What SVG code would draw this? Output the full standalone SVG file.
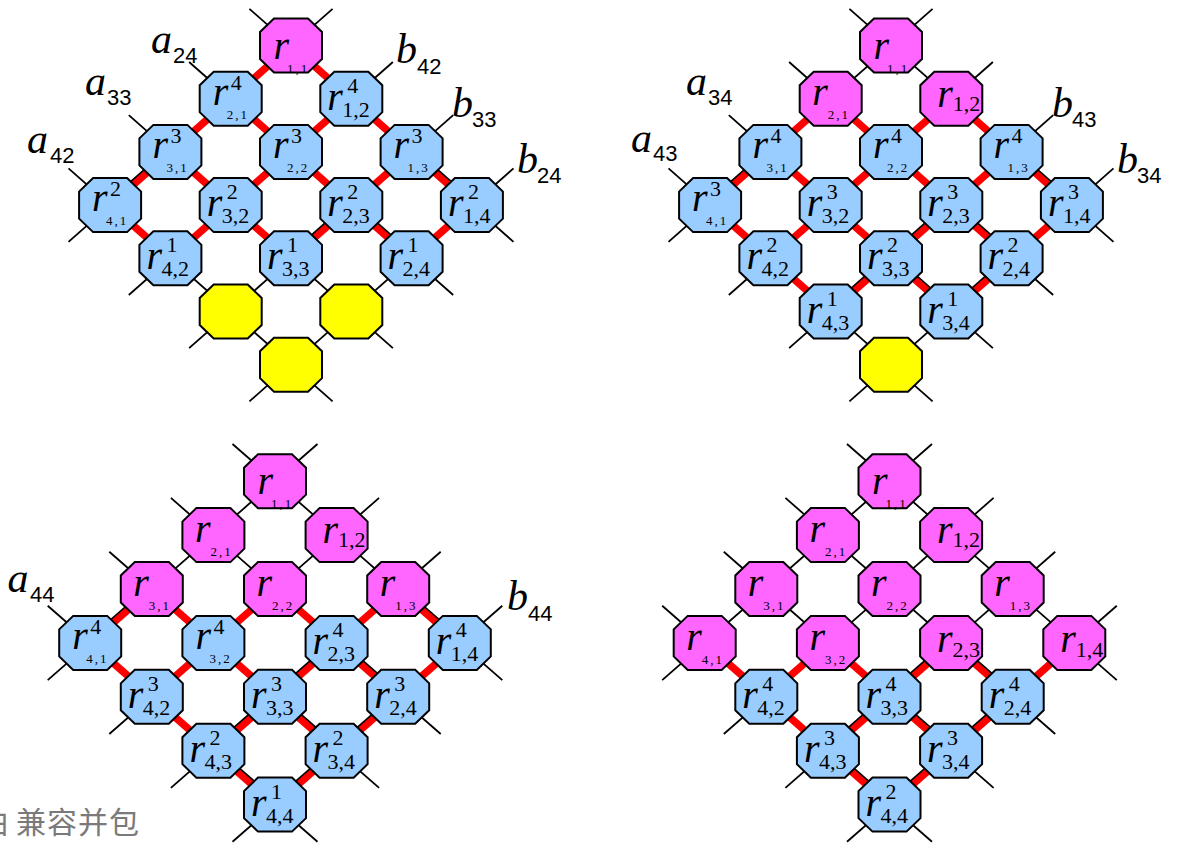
<svg xmlns="http://www.w3.org/2000/svg" xmlns:xlink="http://www.w3.org/1999/xlink" width="1178" height="851" viewBox="0 0 1178 851">
  <style>
    .oct { stroke: #000; stroke-width: 2; stroke-linejoin: miter; }
    .blue { fill: #99ccff; }
    .pink { fill: #ff66ff; }
    .yel { fill: #ffff00; }
    .wire { stroke: #000; stroke-width: 1.8; fill: none; }
    .bus { stroke: #ff0000; stroke-width: 7.5; fill: none; stroke-linecap: butt; }
    .seam { stroke: #000; stroke-width: 1.6; fill: none; }
    text { font-family: "Liberation Serif", "Times New Roman", serif; fill: #000; }
    .r { font-style: italic; font-size: 40px; }
    .sp { font-size: 22px; }
    .sb { font-size: 22px; }
    .ss { font-size: 13px; letter-spacing: 2px; }
    .lv { font-style: italic; font-size: 42px; }
    .li { font-family: "Liberation Sans", Arial, sans-serif; font-size: 22px; }
    .foot { font-family: "Noto Sans CJK SC", "Noto Sans", sans-serif; font-size: 30px; fill: #7a7a7a; }
  </style>
  <defs>
    <polygon id="oct" points="-17,-27 17,-27 31,-13.5 31,13.5 17,27 -17,27 -31,13.5 -31,-13.5"/>
  </defs>

  <!-- lattice wires: each line runs through one row or column of a 4x4 array, stubs included -->
  <g id="connectors">
    <g id="wires">
      <!-- array 1 -->
      <line class="wire" x1="249.4" y1="8.8" x2="513.5" y2="241.8"/>
      <line class="wire" x1="189.1" y1="62" x2="453.2" y2="295"/>
      <line class="wire" x1="128.8" y1="115.2" x2="392.9" y2="348.2"/>
      <line class="wire" x1="68.5" y1="168.4" x2="332.6" y2="401.4"/>
      <line class="wire" x1="332.6" y1="8.8" x2="68.5" y2="241.8"/>
      <line class="wire" x1="392.9" y1="62" x2="128.8" y2="295"/>
      <line class="wire" x1="453.2" y1="115.2" x2="189.1" y2="348.2"/>
      <line class="wire" x1="513.5" y1="168.4" x2="249.4" y2="401.4"/>
      <!-- array 2 -->
      <line class="wire" x1="849.4" y1="8.8" x2="1113.5" y2="241.8"/>
      <line class="wire" x1="789.1" y1="62" x2="1053.2" y2="295"/>
      <line class="wire" x1="728.8" y1="115.2" x2="992.9" y2="348.2"/>
      <line class="wire" x1="668.5" y1="168.4" x2="932.6" y2="401.4"/>
      <line class="wire" x1="932.6" y1="8.8" x2="668.5" y2="241.8"/>
      <line class="wire" x1="992.9" y1="62" x2="728.8" y2="295"/>
      <line class="wire" x1="1053.2" y1="115.2" x2="789.1" y2="348.2"/>
      <line class="wire" x1="1113.5" y1="168.4" x2="849.4" y2="401.4"/>
      <!-- array 3 -->
      <line class="wire" x1="232.5" y1="444" x2="502.3" y2="680.1"/>
      <line class="wire" x1="170.9" y1="497.9" x2="440.7" y2="734"/>
      <line class="wire" x1="109.3" y1="551.8" x2="379.1" y2="787.9"/>
      <line class="wire" x1="47.7" y1="605.7" x2="317.5" y2="841.8"/>
      <line class="wire" x1="317.5" y1="444" x2="47.7" y2="680.1"/>
      <line class="wire" x1="379.1" y1="497.9" x2="109.3" y2="734"/>
      <line class="wire" x1="440.7" y1="551.8" x2="170.9" y2="787.9"/>
      <line class="wire" x1="502.3" y1="605.7" x2="232.5" y2="841.8"/>
      <!-- array 4 -->
      <line class="wire" x1="847" y1="444" x2="1116.8" y2="680.1"/>
      <line class="wire" x1="785.4" y1="497.9" x2="1055.2" y2="734"/>
      <line class="wire" x1="723.8" y1="551.8" x2="993.6" y2="787.9"/>
      <line class="wire" x1="662.2" y1="605.7" x2="932" y2="841.8"/>
      <line class="wire" x1="932" y1="444" x2="662.2" y2="680.1"/>
      <line class="wire" x1="993.6" y1="497.9" x2="723.8" y2="734"/>
      <line class="wire" x1="1055.2" y1="551.8" x2="785.4" y2="787.9"/>
      <line class="wire" x1="1116.8" y1="605.7" x2="847" y2="841.8"/>
    </g>

    <!-- active data paths -->
    <g id="buses">
      <!-- array 1 -->
      <line class="bus" x1="291" y1="45.5" x2="471.9" y2="205.1"/>
      <line class="bus" x1="230.7" y1="98.7" x2="411.6" y2="258.3"/>
      <line class="bus" x1="170.4" y1="151.9" x2="291" y2="258.3"/>
      <line class="bus" x1="110.1" y1="205.1" x2="170.4" y2="258.3"/>
      <line class="bus" x1="291" y1="45.5" x2="110.1" y2="205.1"/>
      <line class="bus" x1="351.3" y1="98.7" x2="170.4" y2="258.3"/>
      <line class="bus" x1="411.6" y1="151.9" x2="291" y2="258.3"/>
      <line class="bus" x1="471.9" y1="205.1" x2="411.6" y2="258.3"/>
      <!-- array 2 -->
      <line class="bus" x1="951.3" y1="98.7" x2="1071.9" y2="205.1"/>
      <line class="bus" x1="830.7" y1="98.7" x2="1011.6" y2="258.3"/>
      <line class="bus" x1="770.4" y1="151.9" x2="951.3" y2="311.5"/>
      <line class="bus" x1="710.1" y1="205.1" x2="830.7" y2="311.5"/>
      <line class="bus" x1="830.7" y1="98.7" x2="710.1" y2="205.1"/>
      <line class="bus" x1="951.3" y1="98.7" x2="770.4" y2="258.3"/>
      <line class="bus" x1="1011.6" y1="151.9" x2="830.7" y2="311.5"/>
      <line class="bus" x1="1071.9" y1="205.1" x2="951.3" y2="311.5"/>
      <!-- array 3 -->
      <line class="bus" x1="398.2" y1="589" x2="459.8" y2="642.9"/>
      <line class="bus" x1="275" y1="589" x2="398.2" y2="696.8"/>
      <line class="bus" x1="151.8" y1="589" x2="336.6" y2="750.7"/>
      <line class="bus" x1="90.2" y1="642.9" x2="275" y2="804.6"/>
      <line class="bus" x1="151.8" y1="589" x2="90.2" y2="642.9"/>
      <line class="bus" x1="275" y1="589" x2="151.8" y2="696.8"/>
      <line class="bus" x1="398.2" y1="589" x2="213.4" y2="750.7"/>
      <line class="bus" x1="459.8" y1="642.9" x2="275" y2="804.6"/>
      <!-- array 4 -->
      <line class="bus" x1="951.1" y1="642.9" x2="1012.7" y2="696.8"/>
      <line class="bus" x1="827.9" y1="642.9" x2="951.1" y2="750.7"/>
      <line class="bus" x1="704.7" y1="642.9" x2="889.5" y2="804.6"/>
      <line class="bus" x1="827.9" y1="642.9" x2="766.3" y2="696.8"/>
      <line class="bus" x1="951.1" y1="642.9" x2="827.9" y2="750.7"/>
      <line class="bus" x1="1074.3" y1="642.9" x2="889.5" y2="804.6"/>
    </g>

    <!-- wires showing beside some data paths -->
    <g id="seams">
      <line class="seam" x1="167.75" y1="148.9" x2="107.45" y2="202.1"/>
      <line class="seam" x1="348.65" y1="202.1" x2="288.35" y2="255.3"/>
      <line class="seam" x1="414.25" y1="148.9" x2="474.55" y2="202.1"/>
      <line class="seam" x1="353.95" y1="202.1" x2="414.25" y2="255.3"/>

      <line class="seam" x1="767.75" y1="148.9" x2="707.45" y2="202.1"/>
      <line class="seam" x1="948.65" y1="202.1" x2="828.05" y2="308.5"/>
      <line class="seam" x1="1008.95" y1="255.3" x2="948.65" y2="308.5"/>
      <line class="seam" x1="1014.25" y1="148.9" x2="1074.55" y2="202.1"/>
      <line class="seam" x1="953.95" y1="202.1" x2="1014.25" y2="255.3"/>
      <line class="seam" x1="893.65" y1="255.3" x2="953.95" y2="308.5"/>

      <line class="seam" x1="149.16" y1="585.99" x2="87.56" y2="639.89"/>
      <line class="seam" x1="333.96" y1="639.89" x2="210.76" y2="747.69"/>
      <line class="seam" x1="395.56" y1="693.79" x2="272.36" y2="801.59"/>
      <line class="seam" x1="400.84" y1="585.99" x2="462.44" y2="639.89"/>
      <line class="seam" x1="339.24" y1="639.89" x2="400.84" y2="693.79"/>
      <line class="seam" x1="277.64" y1="693.79" x2="339.24" y2="747.69"/>
      <line class="seam" x1="216.04" y1="747.69" x2="277.64" y2="801.59"/>

      <line class="seam" x1="948.46" y1="639.89" x2="825.26" y2="747.69"/>
      <line class="seam" x1="1010.06" y1="693.79" x2="886.86" y2="801.59"/>
      <line class="seam" x1="953.74" y1="639.89" x2="1015.34" y2="693.79"/>
      <line class="seam" x1="892.14" y1="693.79" x2="953.74" y2="747.69"/>
      <line class="seam" x1="830.54" y1="747.69" x2="892.14" y2="801.59"/>
    </g>
  </g>

  <!-- ===== array 1 ===== -->
  <g id="a1-r11" transform="translate(291,45.5)"><use xlink:href="#oct" class="oct pink"/><text class="r" x="-17.5" y="13">r</text><text class="ss" x="-4" y="27">1,1</text></g>
  <g id="a1-r21" transform="translate(230.7,98.7)"><use xlink:href="#oct" class="oct blue"/><text class="r" x="-18" y="6">r</text><text class="sp" x="0" y="-9">4</text><text class="ss" x="-4" y="20">2,1</text></g>
  <g id="a1-r12" transform="translate(351.3,98.7)"><use xlink:href="#oct" class="oct blue"/><text class="r" x="-24" y="11">r</text><text class="sp" x="-4" y="-6">4</text><text class="sb" x="-9" y="18">1,2</text></g>
  <g id="a1-r31" transform="translate(170.4,151.9)"><use xlink:href="#oct" class="oct blue"/><text class="r" x="-18" y="6">r</text><text class="sp" x="0" y="-9">3</text><text class="ss" x="-4" y="20">3,1</text></g>
  <g id="a1-r22" transform="translate(291,151.9)"><use xlink:href="#oct" class="oct blue"/><text class="r" x="-18" y="6">r</text><text class="sp" x="0" y="-9">3</text><text class="ss" x="-4" y="20">2,2</text></g>
  <g id="a1-r13" transform="translate(411.6,151.9)"><use xlink:href="#oct" class="oct blue"/><text class="r" x="-18" y="6">r</text><text class="sp" x="0" y="-9">3</text><text class="ss" x="-4" y="20">1,3</text></g>
  <g id="a1-r41" transform="translate(110.1,205.1)"><use xlink:href="#oct" class="oct blue"/><text class="r" x="-18" y="6">r</text><text class="sp" x="0" y="-9">2</text><text class="ss" x="-4" y="20">4,1</text></g>
  <g id="a1-r32" transform="translate(230.7,205.1)"><use xlink:href="#oct" class="oct blue"/><text class="r" x="-24" y="11">r</text><text class="sp" x="-4" y="-6">2</text><text class="sb" x="-9" y="18">3,2</text></g>
  <g id="a1-r23" transform="translate(351.3,205.1)"><use xlink:href="#oct" class="oct blue"/><text class="r" x="-24" y="11">r</text><text class="sp" x="-4" y="-6">2</text><text class="sb" x="-9" y="18">2,3</text></g>
  <g id="a1-r14" transform="translate(471.9,205.1)"><use xlink:href="#oct" class="oct blue"/><text class="r" x="-24" y="11">r</text><text class="sp" x="-4" y="-6">2</text><text class="sb" x="-9" y="18">1,4</text></g>
  <g id="a1-r42" transform="translate(170.4,258.3)"><use xlink:href="#oct" class="oct blue"/><text class="r" x="-24" y="11">r</text><text class="sp" x="-4" y="-6">1</text><text class="sb" x="-9" y="18">4,2</text></g>
  <g id="a1-r33" transform="translate(291,258.3)"><use xlink:href="#oct" class="oct blue"/><text class="r" x="-24" y="11">r</text><text class="sp" x="-4" y="-6">1</text><text class="sb" x="-9" y="18">3,3</text></g>
  <g id="a1-r24" transform="translate(411.6,258.3)"><use xlink:href="#oct" class="oct blue"/><text class="r" x="-24" y="11">r</text><text class="sp" x="-4" y="-6">1</text><text class="sb" x="-9" y="18">2,4</text></g>
  <g id="a1-r43" transform="translate(230.7,311.5)"><use xlink:href="#oct" class="oct yel"/></g>
  <g id="a1-r34" transform="translate(351.3,311.5)"><use xlink:href="#oct" class="oct yel"/></g>
  <g id="a1-r44" transform="translate(291,364.7)"><use xlink:href="#oct" class="oct yel"/></g>

  <!-- ===== array 2 ===== -->
  <g id="a2-r11" transform="translate(891,45.5)"><use xlink:href="#oct" class="oct pink"/><text class="r" x="-17.5" y="13">r</text><text class="ss" x="-4" y="27">1,1</text></g>
  <g id="a2-r21" transform="translate(830.7,98.7)"><use xlink:href="#oct" class="oct pink"/><text class="r" x="-18.5" y="6">r</text><text class="ss" x="-3" y="20">2,1</text></g>
  <g id="a2-r12" transform="translate(951.3,98.7)"><use xlink:href="#oct" class="oct pink"/><text class="r" x="-14" y="8">r</text><text class="sb" x="1.5" y="12">1,2</text></g>
  <g id="a2-r31" transform="translate(770.4,151.9)"><use xlink:href="#oct" class="oct blue"/><text class="r" x="-18" y="6">r</text><text class="sp" x="0" y="-9">4</text><text class="ss" x="-4" y="20">3,1</text></g>
  <g id="a2-r22" transform="translate(891,151.9)"><use xlink:href="#oct" class="oct blue"/><text class="r" x="-18" y="6">r</text><text class="sp" x="0" y="-9">4</text><text class="ss" x="-4" y="20">2,2</text></g>
  <g id="a2-r13" transform="translate(1011.6,151.9)"><use xlink:href="#oct" class="oct blue"/><text class="r" x="-18" y="6">r</text><text class="sp" x="0" y="-9">4</text><text class="ss" x="-4" y="20">1,3</text></g>
  <g id="a2-r41" transform="translate(710.1,205.1)"><use xlink:href="#oct" class="oct blue"/><text class="r" x="-18" y="6">r</text><text class="sp" x="0" y="-9">3</text><text class="ss" x="-4" y="20">4,1</text></g>
  <g id="a2-r32" transform="translate(830.7,205.1)"><use xlink:href="#oct" class="oct blue"/><text class="r" x="-24" y="11">r</text><text class="sp" x="-4" y="-6">3</text><text class="sb" x="-9" y="18">3,2</text></g>
  <g id="a2-r23" transform="translate(951.3,205.1)"><use xlink:href="#oct" class="oct blue"/><text class="r" x="-24" y="11">r</text><text class="sp" x="-4" y="-6">3</text><text class="sb" x="-9" y="18">2,3</text></g>
  <g id="a2-r14" transform="translate(1071.9,205.1)"><use xlink:href="#oct" class="oct blue"/><text class="r" x="-24" y="11">r</text><text class="sp" x="-4" y="-6">3</text><text class="sb" x="-9" y="18">1,4</text></g>
  <g id="a2-r42" transform="translate(770.4,258.3)"><use xlink:href="#oct" class="oct blue"/><text class="r" x="-24" y="11">r</text><text class="sp" x="-4" y="-6">2</text><text class="sb" x="-9" y="18">4,2</text></g>
  <g id="a2-r33" transform="translate(891,258.3)"><use xlink:href="#oct" class="oct blue"/><text class="r" x="-24" y="11">r</text><text class="sp" x="-4" y="-6">2</text><text class="sb" x="-9" y="18">3,3</text></g>
  <g id="a2-r24" transform="translate(1011.6,258.3)"><use xlink:href="#oct" class="oct blue"/><text class="r" x="-24" y="11">r</text><text class="sp" x="-4" y="-6">2</text><text class="sb" x="-9" y="18">2,4</text></g>
  <g id="a2-r43" transform="translate(830.7,311.5)"><use xlink:href="#oct" class="oct blue"/><text class="r" x="-24" y="11">r</text><text class="sp" x="-4" y="-6">1</text><text class="sb" x="-9" y="18">4,3</text></g>
  <g id="a2-r34" transform="translate(951.3,311.5)"><use xlink:href="#oct" class="oct blue"/><text class="r" x="-24" y="11">r</text><text class="sp" x="-4" y="-6">1</text><text class="sb" x="-9" y="18">3,4</text></g>
  <g id="a2-r44" transform="translate(891,364.7)"><use xlink:href="#oct" class="oct yel"/></g>

  <!-- ===== array 3 ===== -->
  <g id="a3-r11" transform="translate(275,481.2)"><use xlink:href="#oct" class="oct pink"/><text class="r" x="-17.5" y="13">r</text><text class="ss" x="-4" y="27">1,1</text></g>
  <g id="a3-r21" transform="translate(213.4,535.1)"><use xlink:href="#oct" class="oct pink"/><text class="r" x="-18.5" y="7">r</text><text class="ss" x="-3" y="21">2,1</text></g>
  <g id="a3-r12" transform="translate(336.6,535.1)"><use xlink:href="#oct" class="oct pink"/><text class="r" x="-14" y="8">r</text><text class="sb" x="1.5" y="12">1,2</text></g>
  <g id="a3-r31" transform="translate(151.8,589)"><use xlink:href="#oct" class="oct pink"/><text class="r" x="-18.5" y="7">r</text><text class="ss" x="-3" y="21">3,1</text></g>
  <g id="a3-r22" transform="translate(275,589)"><use xlink:href="#oct" class="oct pink"/><text class="r" x="-18.5" y="7">r</text><text class="ss" x="-3" y="21">2,2</text></g>
  <g id="a3-r13" transform="translate(398.2,589)"><use xlink:href="#oct" class="oct pink"/><text class="r" x="-18.5" y="7">r</text><text class="ss" x="-3" y="21">1,3</text></g>
  <g id="a3-r41" transform="translate(90.2,642.9)"><use xlink:href="#oct" class="oct blue"/><text class="r" x="-18" y="6">r</text><text class="sp" x="0" y="-9">4</text><text class="ss" x="-4" y="20">4,1</text></g>
  <g id="a3-r32" transform="translate(213.4,642.9)"><use xlink:href="#oct" class="oct blue"/><text class="r" x="-18" y="6">r</text><text class="sp" x="0" y="-9">4</text><text class="ss" x="-4" y="20">3,2</text></g>
  <g id="a3-r23" transform="translate(336.6,642.9)"><use xlink:href="#oct" class="oct blue"/><text class="r" x="-24" y="11">r</text><text class="sp" x="-4" y="-6">4</text><text class="sb" x="-9" y="18">2,3</text></g>
  <g id="a3-r14" transform="translate(459.8,642.9)"><use xlink:href="#oct" class="oct blue"/><text class="r" x="-24" y="11">r</text><text class="sp" x="-4" y="-6">4</text><text class="sb" x="-9" y="18">1,4</text></g>
  <g id="a3-r42" transform="translate(151.8,696.8)"><use xlink:href="#oct" class="oct blue"/><text class="r" x="-24" y="11">r</text><text class="sp" x="-4" y="-6">3</text><text class="sb" x="-9" y="18">4,2</text></g>
  <g id="a3-r33" transform="translate(275,696.8)"><use xlink:href="#oct" class="oct blue"/><text class="r" x="-24" y="11">r</text><text class="sp" x="-4" y="-6">3</text><text class="sb" x="-9" y="18">3,3</text></g>
  <g id="a3-r24" transform="translate(398.2,696.8)"><use xlink:href="#oct" class="oct blue"/><text class="r" x="-24" y="11">r</text><text class="sp" x="-4" y="-6">3</text><text class="sb" x="-9" y="18">2,4</text></g>
  <g id="a3-r43" transform="translate(213.4,750.7)"><use xlink:href="#oct" class="oct blue"/><text class="r" x="-24" y="11">r</text><text class="sp" x="-4" y="-6">2</text><text class="sb" x="-9" y="18">4,3</text></g>
  <g id="a3-r34" transform="translate(336.6,750.7)"><use xlink:href="#oct" class="oct blue"/><text class="r" x="-24" y="11">r</text><text class="sp" x="-4" y="-6">2</text><text class="sb" x="-9" y="18">3,4</text></g>
  <g id="a3-r44" transform="translate(275,804.6)"><use xlink:href="#oct" class="oct blue"/><text class="r" x="-24" y="11">r</text><text class="sp" x="-4" y="-6">1</text><text class="sb" x="-9" y="18">4,4</text></g>

  <!-- ===== array 4 ===== -->
  <g id="a4-r11" transform="translate(889.5,481.2)"><use xlink:href="#oct" class="oct pink"/><text class="r" x="-17.5" y="13">r</text><text class="ss" x="-4" y="27">1,1</text></g>
  <g id="a4-r21" transform="translate(827.9,535.1)"><use xlink:href="#oct" class="oct pink"/><text class="r" x="-18.5" y="7">r</text><text class="ss" x="-3" y="21">2,1</text></g>
  <g id="a4-r12" transform="translate(951.1,535.1)"><use xlink:href="#oct" class="oct pink"/><text class="r" x="-14" y="8">r</text><text class="sb" x="1.5" y="12">1,2</text></g>
  <g id="a4-r31" transform="translate(766.3,589)"><use xlink:href="#oct" class="oct pink"/><text class="r" x="-18.5" y="7">r</text><text class="ss" x="-3" y="21">3,1</text></g>
  <g id="a4-r22" transform="translate(889.5,589)"><use xlink:href="#oct" class="oct pink"/><text class="r" x="-18.5" y="7">r</text><text class="ss" x="-3" y="21">2,2</text></g>
  <g id="a4-r13" transform="translate(1012.7,589)"><use xlink:href="#oct" class="oct pink"/><text class="r" x="-18.5" y="7">r</text><text class="ss" x="-3" y="21">1,3</text></g>
  <g id="a4-r41" transform="translate(704.7,642.9)"><use xlink:href="#oct" class="oct pink"/><text class="r" x="-18.5" y="7">r</text><text class="ss" x="-3" y="21">4,1</text></g>
  <g id="a4-r32" transform="translate(827.9,642.9)"><use xlink:href="#oct" class="oct pink"/><text class="r" x="-18.5" y="7">r</text><text class="ss" x="-3" y="21">3,2</text></g>
  <g id="a4-r23" transform="translate(951.1,642.9)"><use xlink:href="#oct" class="oct pink"/><text class="r" x="-14" y="9">r</text><text class="sb" x="1.5" y="14">2,3</text></g>
  <g id="a4-r14" transform="translate(1074.3,642.9)"><use xlink:href="#oct" class="oct pink"/><text class="r" x="-14" y="9">r</text><text class="sb" x="1.5" y="14">1,4</text></g>
  <g id="a4-r42" transform="translate(766.3,696.8)"><use xlink:href="#oct" class="oct blue"/><text class="r" x="-24" y="11">r</text><text class="sp" x="-4" y="-6">4</text><text class="sb" x="-9" y="18">4,2</text></g>
  <g id="a4-r33" transform="translate(889.5,696.8)"><use xlink:href="#oct" class="oct blue"/><text class="r" x="-24" y="11">r</text><text class="sp" x="-4" y="-6">4</text><text class="sb" x="-9" y="18">3,3</text></g>
  <g id="a4-r24" transform="translate(1012.7,696.8)"><use xlink:href="#oct" class="oct blue"/><text class="r" x="-24" y="11">r</text><text class="sp" x="-4" y="-6">4</text><text class="sb" x="-9" y="18">2,4</text></g>
  <g id="a4-r43" transform="translate(827.9,750.7)"><use xlink:href="#oct" class="oct blue"/><text class="r" x="-24" y="11">r</text><text class="sp" x="-4" y="-6">3</text><text class="sb" x="-9" y="18">4,3</text></g>
  <g id="a4-r34" transform="translate(951.1,750.7)"><use xlink:href="#oct" class="oct blue"/><text class="r" x="-24" y="11">r</text><text class="sp" x="-4" y="-6">3</text><text class="sb" x="-9" y="18">3,4</text></g>
  <g id="a4-r44" transform="translate(889.5,804.6)"><use xlink:href="#oct" class="oct blue"/><text class="r" x="-24" y="11">r</text><text class="sp" x="-4" y="-6">2</text><text class="sb" x="-9" y="18">4,4</text></g>

  <!-- input / output port labels -->
  <g id="labels">
    <text><tspan class="lv" x="151" y="53">a</tspan><tspan class="li" x="173" y="63">24</tspan></text>
    <text><tspan class="lv" x="85" y="95">a</tspan><tspan class="li" x="107" y="105">33</tspan></text>
    <text><tspan class="lv" x="27" y="153">a</tspan><tspan class="li" x="50" y="163">42</tspan></text>
    <text><tspan class="lv" x="396" y="62.5">b</tspan><tspan class="li" x="417" y="74">42</tspan></text>
    <text><tspan class="lv" x="452" y="116.5">b</tspan><tspan class="li" x="472" y="127">33</tspan></text>
    <text><tspan class="lv" x="517" y="172.5">b</tspan><tspan class="li" x="537" y="183">24</tspan></text>

    <text><tspan class="lv" x="686" y="95">a</tspan><tspan class="li" x="708" y="105">34</tspan></text>
    <text><tspan class="lv" x="631" y="152">a</tspan><tspan class="li" x="653" y="161">43</tspan></text>
    <text><tspan class="lv" x="1052" y="116.5">b</tspan><tspan class="li" x="1072" y="127">43</tspan></text>
    <text><tspan class="lv" x="1117" y="172.5">b</tspan><tspan class="li" x="1137" y="183">34</tspan></text>

    <text><tspan class="lv" x="7.5" y="591.7">a</tspan><tspan class="li" x="30" y="601.7">44</tspan></text>
    <text><tspan class="lv" x="507" y="610">b</tspan><tspan class="li" x="528" y="621">44</tspan></text>
  </g>

  <text class="foot"><tspan x="-21" y="833">由 </tspan><tspan x="16" y="833" letter-spacing="1">兼容并包</tspan></text>
</svg>
